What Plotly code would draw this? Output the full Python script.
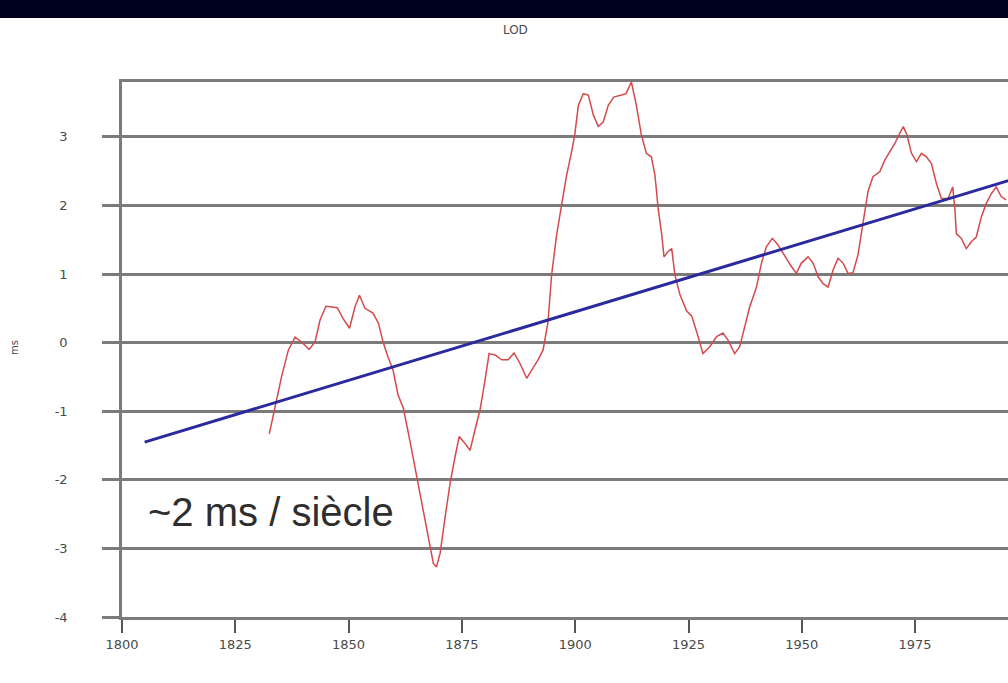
import plotly.graph_objects as go

# Length-of-day excess (ms), smoothed series
years = [
    1832.5, 1833.8, 1835.2, 1836.7, 1838.2, 1839.6, 1841.3, 1842.6, 1843.7, 1845.0,
    1846.3, 1847.5, 1848.8, 1850.2, 1851.4, 1852.4, 1853.6, 1855.4, 1856.6, 1857.6,
    1858.7, 1859.8, 1860.9, 1862.1, 1863.5, 1865.0, 1866.5, 1867.6, 1868.7, 1869.4,
    1870.2, 1871.3, 1872.4, 1873.5, 1874.4, 1875.7, 1876.8, 1877.9, 1879.0, 1880.1,
    1881.0, 1882.3, 1883.8, 1885.2, 1886.5, 1887.8, 1889.3, 1890.4, 1891.8, 1892.9,
    1894.0, 1894.8, 1895.9, 1897.0, 1898.1, 1899.2, 1899.9, 1900.7, 1901.8, 1902.9,
    1904.0, 1905.1, 1906.2, 1907.3, 1908.5, 1910.2, 1911.2, 1911.7, 1912.4, 1913.5,
    1914.6, 1915.7, 1916.8, 1917.6, 1918.3, 1919.1, 1919.6, 1920.5, 1921.3, 1922.0,
    1923.1, 1924.6, 1925.7, 1926.8, 1927.5, 1928.2, 1929.7, 1931.2, 1932.6, 1933.7,
    1935.2, 1936.3, 1937.4, 1938.5, 1940.0, 1941.1, 1942.2, 1943.5, 1944.8, 1946.3,
    1947.7, 1948.8, 1949.9, 1951.4, 1952.5, 1953.6, 1954.7, 1955.8, 1956.9, 1958.0,
    1959.1, 1960.2, 1961.3, 1962.4, 1963.5, 1964.6, 1965.7, 1967.2, 1968.3, 1969.4,
    1970.5, 1971.6, 1972.4, 1973.2, 1974.2, 1975.3, 1976.4, 1977.5, 1978.6, 1979.7,
    1980.8, 1982.3, 1983.3, 1983.8, 1984.1, 1985.2, 1986.3, 1987.4, 1988.5, 1989.6,
    1990.7, 1991.8, 1992.9, 1994.0, 1995.1,
]
lod_ms = [
    -1.33, -0.93, -0.50, -0.11, 0.08, 0.01, -0.10, 0.01, 0.33, 0.53,
    0.52, 0.51, 0.35, 0.21, 0.52, 0.69, 0.50, 0.43, 0.28, 0.01,
    -0.21, -0.40, -0.76, -0.96, -1.42, -1.95, -2.44, -2.83, -3.22, -3.27,
    -3.07, -2.54, -2.05, -1.66, -1.37, -1.47, -1.57, -1.27, -0.98, -0.55,
    -0.16, -0.18, -0.25, -0.25, -0.15, -0.30, -0.52, -0.40, -0.25, -0.11,
    0.30, 0.99, 1.57, 2.01, 2.44, 2.78, 3.03, 3.46, 3.63, 3.61,
    3.32, 3.15, 3.22, 3.46, 3.58, 3.61, 3.63, 3.70, 3.80, 3.46,
    3.03, 2.76, 2.71, 2.44, 1.96, 1.57, 1.25, 1.33, 1.37, 0.99,
    0.70, 0.46, 0.39, 0.16, 0.00, -0.16, -0.06, 0.09, 0.14, 0.04,
    -0.16, -0.06, 0.23, 0.52, 0.81, 1.16, 1.40, 1.52, 1.42, 1.25,
    1.11, 1.01, 1.16, 1.25, 1.16, 0.96, 0.86, 0.81, 1.06, 1.23,
    1.16, 1.01, 1.02, 1.28, 1.74, 2.20, 2.42, 2.49, 2.66, 2.78,
    2.90, 3.05, 3.15, 3.03, 2.76, 2.64, 2.76, 2.71, 2.61, 2.32,
    2.10, 2.10, 2.27, 1.93, 1.59, 1.52, 1.37, 1.47, 1.54, 1.83,
    2.03, 2.17, 2.27, 2.13, 2.08,
]

# Linear trend: about 2 ms per century
trend_years = [1805, 2000]
trend_ms = [-1.45, 2.45]

x_ticks = [1800, 1825, 1850, 1875, 1900, 1925, 1950, 1975]
y_ticks = [-4, -3, -2, -1, 0, 1, 2, 3]

W, H = 1008, 683
ML, MR, MT, MB = 122, 0, 82, 66
plot_w = W - ML - MR
plot_h = H - MT - MB

grid = "#7b7b7b"
label_color = "#4a4a4a"
tick_font = dict(family="DejaVu Sans", size=13, color=label_color)

fig = go.Figure()
fig.add_trace(go.Scatter(
    x=years, y=lod_ms, mode="lines",
    line=dict(color="#d44a4a", width=1.5), hoverinfo="skip",
))
fig.add_trace(go.Scatter(
    x=trend_years, y=trend_ms, mode="lines",
    line=dict(color="#2a2a9e", width=3), hoverinfo="skip",
))

fig.update_layout(
    width=W, height=H,
    margin=dict(l=ML, r=MR, t=MT, b=MB),
    paper_bgcolor="white", plot_bgcolor="white",
    showlegend=False,
    xaxis=dict(
        range=[1800, 1995.5], tickvals=x_ticks, ticktext=[str(v) for v in x_ticks],
        showgrid=False, zeroline=False,
        showline=True, linecolor=grid, linewidth=2.5, mirror=True,
        ticks="outside", ticklen=13, tickwidth=1.5, tickcolor="#555555",
        tickfont=tick_font, ticklabelstandoff=1,
    ),
    yaxis=dict(
        range=[-4, 3.8], tickvals=y_ticks, ticktext=[str(v) for v in y_ticks],
        showgrid=True, gridcolor=grid, gridwidth=2.5,
        zeroline=False,
        showline=True, linecolor=grid, linewidth=2.5,
        ticks="outside", ticklen=17, tickwidth=2.5, tickcolor=grid,
        tickfont=tick_font, ticklabelstandoff=32,
    ),
    title=dict(
        text="LOD", x=(575 - ML) / plot_w, xanchor="center",
        y=1 - 30 / H, yanchor="middle",
        font=dict(family="DejaVu Sans", size=12, color=label_color),
    ),
)

# dark band across the top edge
fig.add_shape(
    type="rect", xref="paper", yref="paper",
    x0=-ML / plot_w, x1=1.0, y0=1 + (MT - 18) / plot_h, y1=1 + MT / plot_h,
    fillcolor="#00001e", line=dict(width=0), layer="above",
)

# y-axis unit label
fig.add_annotation(
    text="ms", xref="paper", yref="paper",
    x=(14 - ML) / plot_w, xanchor="center",
    y=(617 - 348) / plot_h, yanchor="middle",
    textangle=-90, showarrow=False,
    font=dict(family="DejaVu Sans", size=10, color=label_color),
)

fig.add_annotation(
    text="~2 ms / siècle", xref="paper", yref="paper",
    x=(146 - ML) / plot_w, xanchor="left",
    y=(617 - 512) / plot_h, yanchor="middle",
    showarrow=False,
    font=dict(family="Liberation Sans", size=40, color="#2e2e2e"),
)

fig.write_html("out.html")
